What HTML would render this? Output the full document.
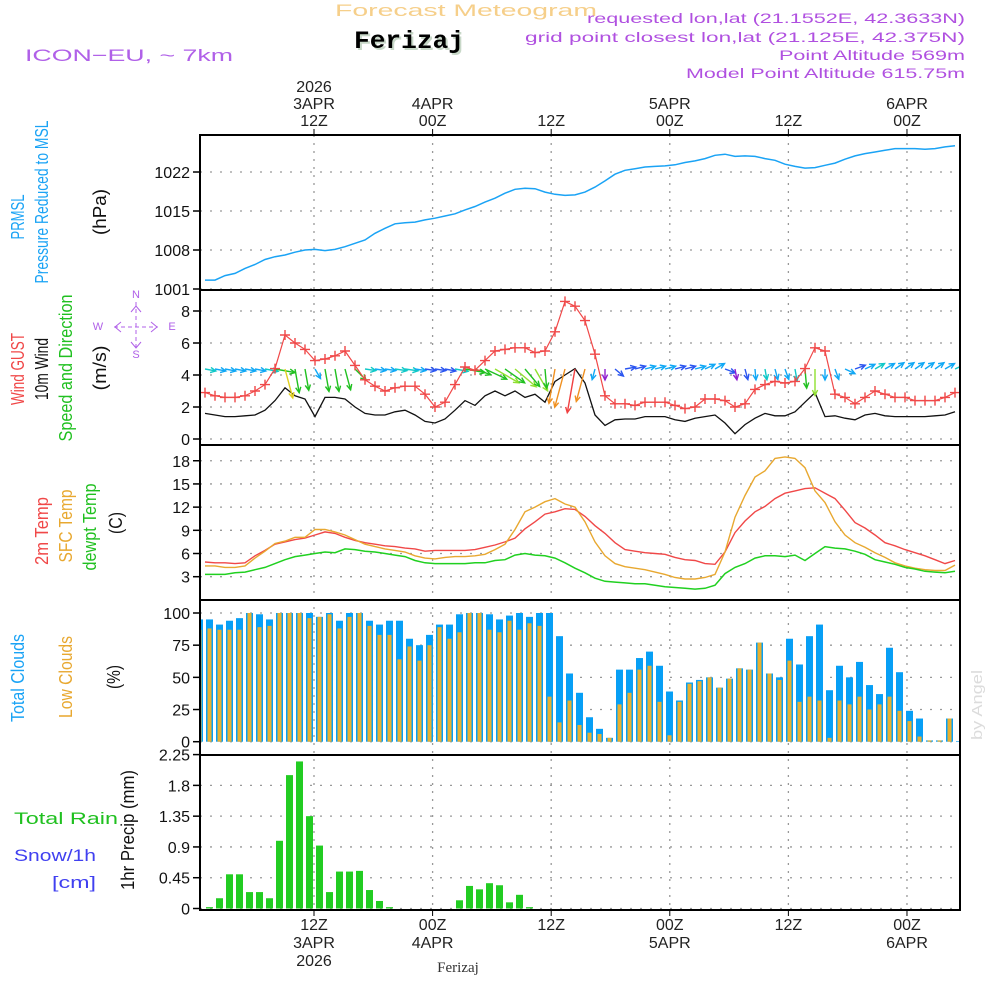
<!DOCTYPE html>
<html><head><meta charset="utf-8"><style>
html,body{margin:0;padding:0;background:#fff;}
svg{display:block;font-family:"Liberation Sans",sans-serif;}
</style></head><body>
<svg id="chart" width="1000" height="1000" viewBox="0 0 1000 1000" xmlns="http://www.w3.org/2000/svg">
<rect x="0" y="0" width="1000" height="1000" fill="#fff"/>
<text x="466" y="16" text-anchor="middle" font-size="17" fill="#f6cf8a" textLength="262" lengthAdjust="spacingAndGlyphs">Forecast Meteogram</text>
<text x="411" y="50" text-anchor="middle" font-family="Liberation Mono,monospace" font-weight="bold" font-size="25" fill="#c8d8c8" textLength="110" lengthAdjust="spacingAndGlyphs">Ferizaj</text>
<text x="409" y="48" text-anchor="middle" font-family="Liberation Mono,monospace" font-weight="bold" font-size="25" fill="#000" textLength="110" lengthAdjust="spacingAndGlyphs">Ferizaj</text>
<text x="25" y="61" font-size="17" fill="#b060e8" textLength="208" lengthAdjust="spacingAndGlyphs">ICON−EU, ~ 7km</text>
<g font-size="14" fill="#b050e0" text-anchor="end">
<text x="965" y="23" textLength="378" lengthAdjust="spacingAndGlyphs">requested lon,lat (21.1552E, 42.3633N)</text>
<text x="965" y="42" textLength="440" lengthAdjust="spacingAndGlyphs">grid point closest lon,lat (21.125E, 42.375N)</text>
<text x="965" y="60" textLength="186" lengthAdjust="spacingAndGlyphs">Point Altitude 569m</text>
<text x="965" y="78" textLength="279" lengthAdjust="spacingAndGlyphs">Model Point Altitude 615.75m</text>
</g>
<g id="grid"></g>
<g id="data"></g>
<g id="frame"></g>
<g id="labels"></g>
<text x="14" y="824" font-size="17" fill="#20c020" textLength="104" lengthAdjust="spacingAndGlyphs">Total   Rain</text>
<text x="14" y="861" font-size="17" fill="#4040f0" textLength="82" lengthAdjust="spacingAndGlyphs">Snow/1h</text>
<text x="52" y="888" font-size="17" fill="#4040f0" textLength="44" lengthAdjust="spacingAndGlyphs">[cm]</text>
<text x="458" y="972" text-anchor="middle" font-family="Liberation Serif,serif" font-size="15" fill="#333">Ferizaj</text>
<g fill="#b060e8" stroke="#b060e8" font-size="11" text-anchor="middle">
<text x="136" y="298" stroke="none">N</text>
<text x="136" y="358" stroke="none">S</text>
<text x="98" y="330" stroke="none">W</text>
<text x="172" y="330" stroke="none">E</text>
<line x1="136" y1="302" x2="136" y2="349" stroke-dasharray="4 3"/>
<line x1="114" y1="327" x2="158" y2="327" stroke-dasharray="4 3"/>
<polyline points="131,312 136,306 141,312" fill="none"/>
<polyline points="131,342 136,348 141,342" fill="none"/>
<polyline points="121,322 115,327 121,332" fill="none"/>
<polyline points="151,322 157,327 151,332" fill="none"/>
</g>
</svg>
<script>
// ---------- DATA ----------
const hours = [];
for (let i = 1; i <= 76; i++) hours.push(i);
const pressure = [1002.6,1002.6,1003.4,1003.8,1004.7,1005.4,1006.3,1006.8,1007.1,1007.6,1008.0,1008.1,1007.9,1008.1,1008.6,1009.2,1009.8,1011.0,1011.9,1012.7,1012.9,1013.0,1013.4,1013.7,1014.1,1014.5,1015.2,1015.8,1016.6,1017.3,1018.2,1018.9,1019.1,1019.0,1018.4,1018.0,1017.8,1017.9,1018.4,1019.3,1020.4,1021.6,1022.3,1022.6,1022.9,1023.0,1023.1,1023.3,1023.7,1024.0,1024.4,1025.0,1025.2,1024.8,1024.9,1024.8,1024.4,1024.1,1023.4,1023.0,1022.7,1022.8,1023.2,1023.6,1024.3,1024.9,1025.3,1025.6,1025.9,1026.2,1026.2,1026.2,1026.1,1026.2,1026.5,1026.7];
const gust = [2.9,2.7,2.6,2.6,2.7,3.0,3.4,4.4,6.5,6.0,5.6,4.9,5.0,5.2,5.5,4.6,3.7,3.3,3.0,3.2,3.3,3.3,2.8,2.0,2.3,3.4,4.5,4.3,4.9,5.5,5.6,5.7,5.7,5.4,5.5,6.7,8.6,8.3,7.4,5.3,2.7,2.2,2.2,2.1,2.3,2.3,2.3,2.1,1.9,2.0,2.5,2.5,2.4,2.0,2.2,3.1,3.4,3.6,3.5,3.6,4.4,5.7,5.5,2.8,2.6,2.2,2.6,3.0,2.8,2.6,2.6,2.4,2.4,2.4,2.6,2.9];
const wind = [1.6,1.5,1.4,1.4,1.45,1.5,1.8,2.4,3.2,2.7,2.5,1.4,2.6,2.6,2.5,2.0,1.6,1.5,1.5,1.7,1.8,1.5,1.1,1.0,1.25,1.8,2.4,2.1,2.7,3.0,2.7,3.0,2.6,2.8,2.3,3.6,4.0,4.4,3.5,1.5,0.85,1.2,1.25,1.25,1.4,1.4,1.4,1.2,1.1,1.3,1.4,1.5,1.0,0.33,0.9,1.3,1.6,1.45,1.45,1.7,2.3,2.9,1.4,1.45,1.3,1.2,1.5,1.6,1.45,1.4,1.4,1.4,1.4,1.45,1.5,1.7];
const windDir = [10,10,10,10,10,10,10,10,75,80,80,60,80,80,75,45,8,8,8,8,8,8,8,8,10,10,10,20,25,30,35,40,50,60,85,100,105,100,105,105,90,40,-10,-15,-15,-15,-15,-15,-15,-15,-25,-30,20,80,75,85,80,75,70,80,85,90,90,70,25,-20,-25,-30,-30,-35,-35,-35,-35,-35,-30,-25];
const temp2m = [4.9,4.8,4.8,4.7,4.8,5.7,6.4,7.2,7.5,7.8,8.0,8.4,8.8,8.6,8.1,7.7,7.4,7.2,7.0,6.9,6.7,6.6,6.3,6.4,6.4,6.4,6.4,6.5,6.8,7.1,7.5,8.0,9.2,10.1,11.1,11.4,11.8,11.7,10.8,9.6,8.6,7.4,6.5,6.3,6.1,6.0,5.9,5.5,5.2,5.1,4.7,4.6,6.2,8.7,10.2,11.4,12.1,13.1,13.8,14.1,14.4,14.5,13.8,13.1,11.6,10.0,9.3,8.4,7.4,7.0,6.5,6.1,5.7,5.2,4.7,5.1];
const tempSfc = [4.4,4.4,4.2,4.2,4.4,5.4,6.3,7.3,7.6,8.1,8.1,9.1,9.1,8.8,8.4,7.8,7.2,6.9,6.6,6.4,6.2,5.7,5.4,5.3,5.5,5.6,5.6,5.7,5.9,6.5,7.2,9.1,11.4,12.0,12.7,13.1,12.4,12.0,10.1,7.5,5.7,4.7,4.3,4.1,3.9,3.6,3.3,2.9,2.7,2.7,2.9,3.3,6.2,10.7,13.5,15.9,16.7,18.3,18.5,18.3,17.1,14.1,12.6,10.1,8.4,7.4,6.8,6.1,5.5,4.8,4.4,4.1,3.9,3.8,3.8,4.5];
const dewpt = [3.3,3.3,3.3,3.5,3.6,3.9,4.2,4.7,5.2,5.6,5.8,6.0,6.2,6.1,6.6,6.5,6.3,6.2,6.0,5.8,5.6,5.1,4.8,4.7,4.7,4.7,4.7,4.8,4.8,5.1,5.2,5.8,6.0,5.8,5.7,5.4,4.8,4.1,3.5,2.8,2.4,2.3,2.2,2.1,2.1,1.9,1.7,1.6,1.5,1.4,1.5,1.9,3.4,4.2,4.7,5.4,5.7,5.7,5.6,5.8,5.1,6.0,6.9,6.7,6.6,6.3,5.9,5.2,4.9,4.6,4.2,4.0,3.7,3.6,3.5,3.7];
const cloudHours = [];
for (let i = 0; i <= 76; i++) cloudHours.push(i);
const totalClouds = [95,95,91,94,96,100,99,95,100,100,100,100,97,100,94,100,100,94,91,94,94,80,75,83,91,91,99,100,100,99,95,98,100,97,100,100,82,53,38,19,10,3,56,56,65,70,59,39,32,46,48,50,42,49,57,56,77,53,50,80,60,82,91,40,59,50,62,44,37,73,54,24,18,1,1,18,0.5];
const lowClouds = [87,88,87,87,87,100,89,90,100,100,100,96,97,99,88,97,100,90,83,83,64,74,63,75,89,80,85,100,100,87,85,94,87,92,90,35,15,32,13,7,6,3,29,38,56,59,31,5,31,45,47,50,42,49,57,56,77,53,48,63,31,35,32,3,32,29,35,25,29,35,24,16,4,1,1,18,0];
const precip = [0.02,0.15,0.5,0.5,0.24,0.24,0.15,0.99,1.95,2.15,1.35,0.92,0.24,0.54,0.54,0.55,0.27,0.11,0.02,0,0,0,0,0,0,0.12,0.33,0.28,0.37,0.34,0.09,0.2,0.02,0,0,0,0,0,0,0,0,0,0,0,0,0,0,0,0,0,0,0,0,0,0,0,0,0,0,0,0,0,0,0,0,0,0,0,0,0,0,0,0,0,0,0];
const pressureTicks = [1001,1008,1015,1022];
const windTicks = [0,2,4,6,8];
const tempTicks = [3,6,9,12,15,18];
const cloudTicks = [0,25,50,75,100];
const precipTicks = [0,0.45,0.9,1.35,1.8,2.25];
const precipTickLabels = ["0","0.45","0.9","1.35","1.8","2.25"];
const timeTickHours = [12,24,36,48,60,72];
const topLabels = [["2026","3APR","12Z"],["","4APR","00Z"],["","","12Z"],["","5APR","00Z"],["","","12Z"],["","6APR","00Z"]];
const bottomLabels = [["12Z","3APR","2026"],["00Z","4APR",""],["12Z","",""],["00Z","5APR",""],["12Z","",""],["00Z","6APR",""]];

// ---------- SCALES ----------
const X0 = 200, X1 = 960;
const xData = h => 195 + 10 * h;
const xTime = h => 314 + (h - 12) * 9.883;
const yP = v => 289 - (v - 1001) * 5.571;
const yW = v => 439 - v * 16;
const yT = v => 576.7 - (v - 3) * 7.73;
const yC = v => 741.7 - v * 1.287;
const yR = v => 908.5 - v * 68.4;
const panels = [[135,290],[290,445],[445,600],[600,755],[755,910]];

const NS = "http://www.w3.org/2000/svg";
function mk(tag, attrs, parent) {
  const e = document.createElementNS(NS, tag);
  for (const k in attrs) e.setAttribute(k, attrs[k]);
  parent.appendChild(e);
  return e;
}
const svg = document.getElementById('chart');
const gGrid = document.getElementById('grid');
const gData = document.getElementById('data');
const gFrame = document.getElementById('frame');
const gLab = document.getElementById('labels');

const defs = mk('defs', {}, svg);
panels.forEach((p, i) => {
  const cp = mk('clipPath', {id: 'clip' + i}, defs);
  mk('rect', {x: X0, y: p[0], width: X1 - X0, height: p[1] - p[0]}, cp);
});

timeTickHours.forEach((h, i) => {
  const x = xTime(h);
  const l = mk('line', {x1: x, x2: x, y1: 135, y2: 910, stroke: '#999', 'stroke-width': 1.3, 'stroke-dasharray': '2 6'}, gGrid);
  
  
  topLabels[i].forEach((t, j) => {
    if (!t) return;
    const tx = mk('text', {x: x, y: 92 + j * 17, 'text-anchor': 'middle', 'font-size': 16, fill: '#222'}, gLab);
    
    
    tx.textContent = t;
  });
  bottomLabels[i].forEach((t, j) => {
    if (!t) return;
    const tx = mk('text', {x: x, y: 930 + j * 18, 'text-anchor': 'middle', 'font-size': 16, fill: '#222'}, gLab);
    
    
    tx.textContent = t;
  });
  mk('line', {x1: x, x2: x, y1: 129, y2: 135, stroke: '#000', 'stroke-width': 1}, gFrame);
  mk('line', {x1: x, x2: x, y1: 910, y2: 916, stroke: '#000', 'stroke-width': 1}, gFrame);
});

function yAxis(ticks, labels, scale, name) {
  ticks.forEach((v, i) => {
    const y = scale(v);
    const gl = mk('line', {x1: X0, x2: X1, y1: y, y2: y, stroke: '#999', 'stroke-width': 1.3, 'stroke-dasharray': '2 8'}, gGrid);
    
    
    mk('line', {x1: 193, x2: X0, y1: y, y2: y, stroke: '#000', 'stroke-width': 1.5}, gFrame);
    const t = mk('text', {x: 190, y: y + 6, 'text-anchor': 'end', 'font-size': 16, fill: '#111'}, gLab);
    
    
    t.textContent = labels ? labels[i] : String(v);
  });
}
yAxis(pressureTicks, null, yP, 'pressure');
yAxis(windTicks, null, yW, 'wind');
yAxis(tempTicks, null, yT, 'temp');
yAxis(cloudTicks, null, yC, 'cloud');
yAxis(precipTicks, precipTickLabels, yR, 'precip');

function line(vals, hs, scale, color, clip, name, w) {
  const pts = vals.map((v, i) => xData(hs[i]).toFixed(1) + ',' + scale(v).toFixed(1)).join(' ');
  const p = mk('polyline', {points: pts, fill: 'none', stroke: color, 'stroke-width': w || 1.4, 'clip-path': 'url(#clip' + clip + ')'}, gData);
  
  
  return p;
}

line(pressure, hours, yP, '#1aa3f5', 0, 'pressure-line', 1.5);

totalClouds.forEach((v, i) => {
  const x = xData(cloudHours[i]) + 1;
  const r = mk('rect', {x: x, y: yC(v), width: 7, height: yC(0) - yC(v), fill: '#079ff5', 'clip-path': 'url(#clip3)'}, gData);
  
  
});
lowClouds.forEach((v, i) => {
  const x = xData(cloudHours[i]) + 2.5;
  const r = mk('rect', {x: x, y: yC(v), width: 4, height: yC(0) - yC(v), fill: '#e8b030', 'clip-path': 'url(#clip3)'}, gData);
  
  
});

precip.forEach((v, i) => {
  if (v <= 0) return;
  const x = xData(hours[i]) + 1;
  const r = mk('rect', {x: x, y: yR(v), width: 7, height: yR(0) - yR(v), fill: '#22cc22', 'clip-path': 'url(#clip4)'}, gData);
  
  
});

line(temp2m, hours, yT, '#f04848', 2, 'temp-2m-line', 1.4);
line(tempSfc, hours, yT, '#e8a830', 2, 'temp-sfc-line', 1.4);
line(dewpt, hours, yT, '#20d020', 2, 'dewpoint-line', 1.5);

line(wind, hours, yW, '#111', 1, 'wind-speed-line', 1.3);

function windColor(v) {
  if (v < 0.9) return '#9020d0';
  if (v < 1.3) return '#2a55f0';
  if (v < 1.55) return '#10a8f5';
  if (v < 2.0) return '#10c8c8';
  if (v < 2.8) return '#20c020';
  if (v < 3.2) return '#90e030';
  if (v < 3.5) return '#e0d020';
  if (v < 4.2) return '#f09020';
  return '#f04040';
}
windDir.forEach((d, i) => {
  const v = wind[i];
  const L = Math.max(11, 12 * (v - 0.7));
  const x0 = xData(hours[i]), y0 = 369;
  const a = d * Math.PI / 180;
  const x1 = x0 + L * Math.cos(a), y1 = y0 + L * Math.sin(a);
  const c = windColor(v);
  const g = mk('g', {stroke: c, 'stroke-width': 1.4, fill: 'none', 'clip-path': 'url(#clip1)'}, gData);
  
  
  mk('line', {x1: x0, y1: y0, x2: x1, y2: y1}, g);
  const hl = 6, ha = 0.45;
  mk('polyline', {points: (x1 - hl * Math.cos(a - ha)) + ',' + (y1 - hl * Math.sin(a - ha)) + ' ' + x1 + ',' + y1 + ' ' + (x1 - hl * Math.cos(a + ha)) + ',' + (y1 - hl * Math.sin(a + ha))}, g);
});

line(gust, hours, yW, '#f04848', 1, 'gust-line', 1.2);
gust.forEach((v, i) => {
  const x = xData(hours[i]), y = yW(v);
  const p = mk('path', {d: 'M' + (x - 5) + ' ' + y + 'H' + (x + 5) + 'M' + x + ' ' + (y - 5) + 'V' + (y + 5), stroke: '#f04848', 'stroke-width': 1.4, 'clip-path': 'url(#clip1)'}, gData);
  
  
});

panels.forEach(p => {
  const r = mk('rect', {x: X0, y: p[0], width: X1 - X0, height: p[1] - p[0], fill: 'none', stroke: '#000', 'stroke-width': 2}, gFrame);
  
  
});

function vlab(txt, x, yc, len, color, name, size) {
  const t = mk('text', {x: 0, y: 0, 'text-anchor': 'middle', 'font-size': size || 18, fill: color, textLength: len, lengthAdjust: 'spacingAndGlyphs', transform: 'translate(' + x + ',' + yc + ') rotate(-90)'}, gLab);
  
  
  t.textContent = txt;
}
vlab('PRMSL', 24, 217, 45, '#1aa3f5', 'prmsl-label');
vlab('Pressure Reduced to MSL', 48, 202, 163, '#1aa3f5', 'pressure-label');
vlab('(hPa)', 106, 212, 46, '#111', 'hpa-unit-label');
vlab('Wind GUST', 24, 369, 72, '#f04848', 'gust-label');
vlab('10m Wind', 48, 369, 62, '#111', 'wind-label');
vlab('Speed and Direction', 72, 368, 147, '#20c020', 'speed-direction-label');
vlab('(m/s)', 106, 368, 45, '#111', 'ms-unit-label');
vlab('2m Temp', 48, 531, 68, '#f04848', 'temp-2m-label');
vlab('SFC Temp', 72, 526, 73, '#e8a830', 'sfc-temp-label');
vlab('dewpt Temp', 96, 527, 87, '#20c020', 'dewpt-label');
vlab('(C)', 122, 523, 22, '#111', 'c-unit-label');
vlab('Total Clouds', 24, 678, 88, '#1aa3f5', 'total-clouds-label');
vlab('Low Clouds', 72, 677, 82, '#e8a830', 'low-clouds-label');
vlab('(%)', 120, 677, 24, '#111', 'pct-unit-label');
vlab('1hr Precip (mm)', 134, 830, 120, '#111', 'precip-unit-label');
vlab('by Angel', 982, 705, 70, '#dcdcdc', 'watermark', 15);
</script>
</body></html>
